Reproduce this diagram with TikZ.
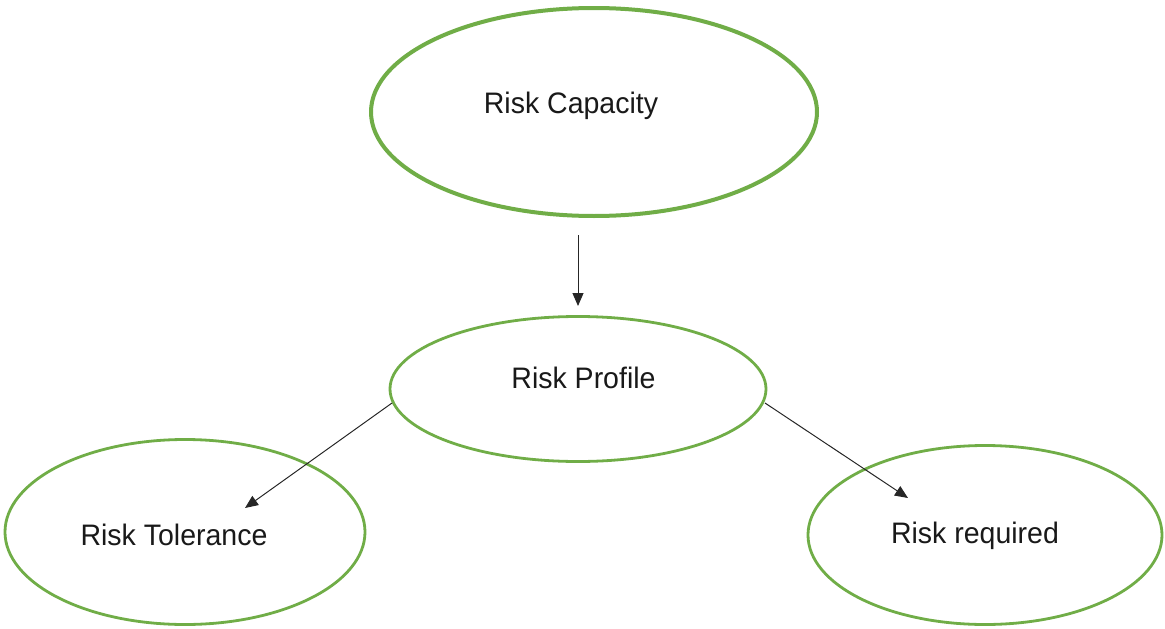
\documentclass[tikz,border=0pt]{standalone}
\usepackage{fontspec}
\setmainfont{Liberation Sans}
\usetikzlibrary{shapes.geometric,arrows.meta}
\definecolor{leaf}{HTML}{70AD47}
\begin{document}
\begin{tikzpicture}[x=1pt,y=-1pt,
  bubble/.style={ellipse,draw=leaf,line width=2.8pt,inner sep=0pt},
  label/.style={font=\fontsize{28.5}{32}\selectfont,text=black!90,anchor=base,inner sep=0pt,yscale=1.04},
  link/.style={draw=black!85,line width=1pt,-{Triangle[length=13pt,width=11pt]}}]
  \useasboundingbox (0,0) rectangle (1165,629);
  % ellipses
  \node[bubble,line width=4pt,minimum width=446pt,minimum height=208pt] (cap) at (594,112) {};
  \node[bubble,minimum width=376pt,minimum height=145pt] (prof) at (578,389) {};
  \node[bubble,minimum width=360pt,minimum height=185pt] (tol) at (185,532) {};
  \node[bubble,minimum width=354pt,minimum height=179pt] (req) at (985,535) {};
  % captions (placed on their baselines)
  \node[label] (capt) at (571,113.5) {Risk Capacity};
  \node[label] (proft) at (583.5,388.5) {Risk Profile};
  \node[label] (tolt) at (174,545) {Risk Tolerance};
  \node[label] (reqt) at (975,543.5) {Risk required};
  % connectors
  \coordinate (a1) at (578,235);
  \coordinate (a2) at (578,306);
  \coordinate (b1) at (392,403);
  \coordinate (b2) at (245,508);
  \coordinate (c1) at (765,403);
  \coordinate (c2) at (908,498);
  \draw[link] (a1) -- (a2);
  \draw[link] (b1) -- (b2);
  \draw[link] (c1) -- (c2);
\end{tikzpicture}
\end{document}
